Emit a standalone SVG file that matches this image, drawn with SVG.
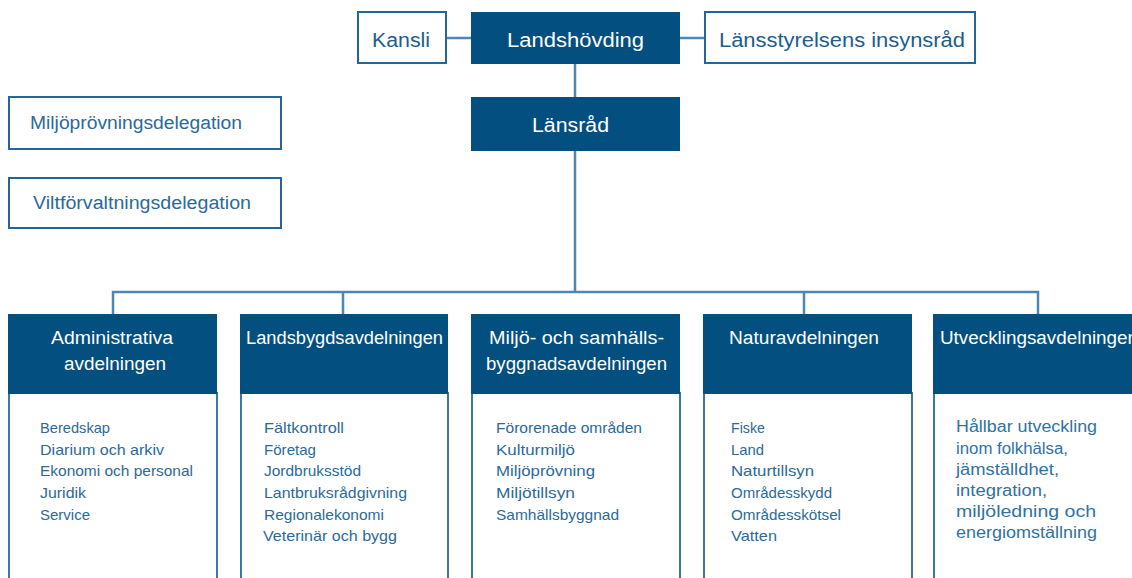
<svg xmlns="http://www.w3.org/2000/svg" width="1132" height="578" viewBox="0 0 1132 578">
<style>
.dark{fill:#034f80}
.wbox{fill:#ffffff;stroke:#23669a;stroke-width:2}
.body{fill:#ffffff;stroke:#3a77a6;stroke-width:2}
.con{stroke:#4f86b2;stroke-width:2.5;fill:none}
text{font-family:"Liberation Sans","DejaVu Sans",sans-serif}
.tw{fill:#ffffff;font-size:20px}
.tb{fill:#1b5d8f;font-size:20px}
.tl{fill:#2a6a9c;font-size:18px}
.th{fill:#ffffff;font-size:18px}
.tx{fill:#2b6a9b;font-size:15px}
.ty{fill:#2f72a3;font-size:16px}
</style>
<rect width="1132" height="578" fill="#ffffff"/>
<g id="connectors">
<line class="con" x1="446" y1="38" x2="471" y2="38"/>
<line class="con" x1="680" y1="38" x2="705" y2="38"/>
<line class="con" x1="575" y1="63" x2="575" y2="97"/>
<line class="con" x1="575" y1="151" x2="575" y2="292"/>
<polyline class="con" points="113,314 113,292 1038,292 1038,314"/>
<line class="con" x1="343" y1="292" x2="343" y2="314"/>
<line class="con" x1="804" y1="292" x2="804" y2="314"/>
</g>
<g id="kansli">
<rect class="wbox" x="358" y="12" width="88" height="51"/>
<text class="tb" x="372" y="47" textLength="58" lengthAdjust="spacingAndGlyphs">Kansli</text>
</g>
<g id="landshovding">
<rect class="dark" x="471" y="12" width="209" height="52"/>
<text class="tw" x="507" y="47" textLength="137" lengthAdjust="spacingAndGlyphs">Landshövding</text>
</g>
<g id="insynsrad">
<rect class="wbox" x="705" y="12" width="270" height="51"/>
<text class="tb" x="719" y="47" textLength="246" lengthAdjust="spacingAndGlyphs">Länsstyrelsens insynsråd</text>
</g>
<g id="lansrad">
<rect class="dark" x="471" y="97" width="209" height="54"/>
<text class="tw" x="532" y="132" textLength="77" lengthAdjust="spacingAndGlyphs">Länsråd</text>
</g>
<g id="miljoprovningsdelegation">
<rect class="wbox" x="9" y="97" width="272" height="52"/>
<text class="tl" x="30" y="129" textLength="212" lengthAdjust="spacingAndGlyphs">Miljöprövningsdelegation</text>
</g>
<g id="viltforvaltningsdelegation">
<rect class="wbox" x="9" y="178" width="272" height="50"/>
<text class="tl" x="33" y="209" textLength="218" lengthAdjust="spacingAndGlyphs">Viltförvaltningsdelegation</text>
</g>
<g id="administrativa">
<rect class="body" x="9" y="393" width="208" height="195"/>
<rect class="dark" x="8" y="314" width="209" height="80"/>
<text class="th" x="51" y="344" textLength="122" lengthAdjust="spacingAndGlyphs">Administrativa</text>
<text class="th" x="64" y="370" textLength="102" lengthAdjust="spacingAndGlyphs">avdelningen</text>
<text class="tx" x="40" y="433" textLength="70" lengthAdjust="spacingAndGlyphs">Beredskap</text>
<text class="tx" x="40" y="455" textLength="124" lengthAdjust="spacingAndGlyphs">Diarium och arkiv</text>
<text class="tx" x="40" y="476" textLength="153" lengthAdjust="spacingAndGlyphs">Ekonomi och personal</text>
<text class="tx" x="40" y="498" textLength="46" lengthAdjust="spacingAndGlyphs">Juridik</text>
<text class="tx" x="40" y="520" textLength="50" lengthAdjust="spacingAndGlyphs">Service</text>
</g>
<g id="landsbygd">
<rect class="body" x="241" y="393" width="207" height="195"/>
<rect class="dark" x="240" y="314" width="208" height="80"/>
<text class="th" x="246" y="344" textLength="197" lengthAdjust="spacingAndGlyphs">Landsbygdsavdelningen</text>
<text class="tx" x="264" y="433" textLength="80" lengthAdjust="spacingAndGlyphs">Fältkontroll</text>
<text class="tx" x="264" y="455" textLength="52" lengthAdjust="spacingAndGlyphs">Företag</text>
<text class="tx" x="264" y="476" textLength="97" lengthAdjust="spacingAndGlyphs">Jordbruksstöd</text>
<text class="tx" x="264" y="498" textLength="143" lengthAdjust="spacingAndGlyphs">Lantbruksrådgivning</text>
<text class="tx" x="264" y="520" textLength="120" lengthAdjust="spacingAndGlyphs">Regionalekonomi</text>
<text class="tx" x="263" y="541" textLength="134" lengthAdjust="spacingAndGlyphs">Veterinär och bygg</text>
</g>
<g id="miljo">
<rect class="body" x="472" y="393" width="208" height="195"/>
<rect class="dark" x="471" y="314" width="209" height="80"/>
<text class="th" x="489" y="344" textLength="175" lengthAdjust="spacingAndGlyphs">Miljö- och samhälls-</text>
<text class="th" x="486" y="370" textLength="181" lengthAdjust="spacingAndGlyphs">byggnadsavdelningen</text>
<text class="tx" x="496" y="433" textLength="146" lengthAdjust="spacingAndGlyphs">Förorenade områden</text>
<text class="tx" x="496" y="455" textLength="79" lengthAdjust="spacingAndGlyphs">Kulturmiljö</text>
<text class="tx" x="496" y="476" textLength="99" lengthAdjust="spacingAndGlyphs">Miljöprövning</text>
<text class="tx" x="496" y="498" textLength="79" lengthAdjust="spacingAndGlyphs">Miljötillsyn</text>
<text class="tx" x="496" y="520" textLength="123" lengthAdjust="spacingAndGlyphs">Samhällsbyggnad</text>
</g>
<g id="natur">
<rect class="body" x="704" y="393" width="208" height="195"/>
<rect class="dark" x="703" y="314" width="209" height="80"/>
<text class="th" x="729" y="344" textLength="150" lengthAdjust="spacingAndGlyphs">Naturavdelningen</text>
<text class="tx" x="731" y="433" textLength="34" lengthAdjust="spacingAndGlyphs">Fiske</text>
<text class="tx" x="731" y="455" textLength="33" lengthAdjust="spacingAndGlyphs">Land</text>
<text class="tx" x="731" y="476" textLength="83" lengthAdjust="spacingAndGlyphs">Naturtillsyn</text>
<text class="tx" x="731" y="498" textLength="101" lengthAdjust="spacingAndGlyphs">Områdesskydd</text>
<text class="tx" x="731" y="520" textLength="110" lengthAdjust="spacingAndGlyphs">Områdesskötsel</text>
<text class="tx" x="731" y="541" textLength="46" lengthAdjust="spacingAndGlyphs">Vatten</text>
</g>
<g id="utveckling">
<rect class="body" x="934" y="393" width="208" height="195"/>
<rect class="dark" x="933" y="314" width="210" height="80"/>
<text class="th" x="940" y="344" textLength="198" lengthAdjust="spacingAndGlyphs">Utvecklingsavdelningen</text>
<text class="ty" x="956" y="432" textLength="141" lengthAdjust="spacingAndGlyphs">Hållbar utveckling</text>
<text class="ty" x="956" y="453.5" textLength="112" lengthAdjust="spacingAndGlyphs">inom folkhälsa,</text>
<text class="ty" x="956" y="475" textLength="103" lengthAdjust="spacingAndGlyphs">jämställdhet,</text>
<text class="ty" x="956" y="496" textLength="91" lengthAdjust="spacingAndGlyphs">integration,</text>
<text class="ty" x="956" y="517" textLength="140" lengthAdjust="spacingAndGlyphs">miljöledning och</text>
<text class="ty" x="956" y="538" textLength="141" lengthAdjust="spacingAndGlyphs">energiomställning</text>
</g>
</svg>
